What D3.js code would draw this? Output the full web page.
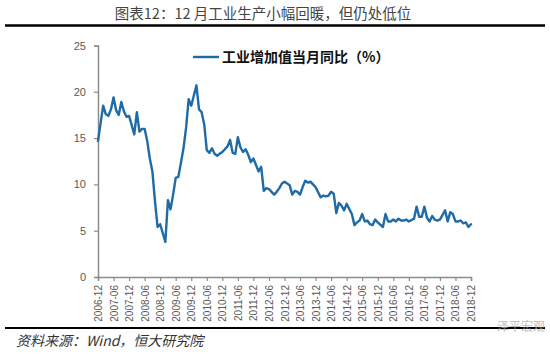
<!DOCTYPE html>
<html>
<head>
<meta charset="utf-8">
<script src="https://cdn.jsdelivr.net/npm/d3@7"></script>
<style>
  html, body { margin: 0; padding: 0; background: #fff; }
  svg { display: block; }
</style>
</head>
<body>
<svg id="chart" width="550" height="354"></svg>
<script>
// Chart data: industrial value added, monthly YoY (%), 2006-12 .. 2018-12.
// January is not published separately (Jan-Feb combined), so it is null.
const ivaValues = [
  14.7,
  null, 18.5, 17.6, 17.4, 18.1, 19.4, 18.0, 17.5, 18.9, 17.9, 17.3, 17.4, // 2007
  null, 15.4, 17.8, 15.7, 16.0, 16.0, 14.7, 12.8, 11.4, 8.2, 5.4, 5.7,    // 2008
  null, 3.8, 8.3, 7.3, 8.9, 10.7, 10.8, 12.3, 13.9, 16.1, 19.2, 18.5,     // 2009
  null, 20.7, 18.1, 17.8, 16.5, 13.7, 13.4, 13.9, 13.3, 13.1, 13.3, 13.5, // 2010
  null, 14.1, 14.8, 13.4, 13.3, 15.1, 14.0, 13.5, 13.8, 13.2, 12.4, 12.8, // 2011
  null, 11.4, 11.9, 9.3, 9.6, 9.5, 9.2, 8.9, 9.2, 9.6, 10.1, 10.3,        // 2012
  null, 9.9, 8.9, 9.3, 9.2, 8.9, 9.7, 10.4, 10.2, 10.3, 10.0, 9.7,        // 2013
  null, 8.6, 8.8, 8.7, 8.8, 9.2, 9.0, 6.9, 8.0, 7.7, 7.2, 7.9,            // 2014
  null, 6.8, 5.6, 5.9, 6.1, 6.8, 6.0, 6.1, 5.7, 5.6, 6.2, 5.9,            // 2015
  null, 5.4, 6.8, 6.0, 6.0, 6.2, 6.0, 6.3, 6.1, 6.1, 6.2, 6.0,            // 2016
  null, 6.3, 7.6, 6.5, 6.5, 7.6, 6.4, 6.0, 6.6, 6.2, 6.1, 6.2,            // 2017
  null, 7.2, 6.0, 7.0, 6.8, 6.0, 6.0, 6.1, 5.8, 5.9, 5.4, 5.7             // 2018
];
const xTickLabels = [
  '2006-12', '2007-06', '2007-12', '2008-06', '2008-12', '2009-06', '2009-12',
  '2010-06', '2010-12', '2011-06', '2011-12', '2012-06', '2012-12', '2013-06',
  '2013-12', '2014-06', '2014-12', '2015-06', '2015-12', '2016-06', '2016-12',
  '2017-06', '2017-12', '2018-06', '2018-12'
];
const yTicks = [0, 5, 10, 15, 20, 25];
const titleText = '图表12：12 月工业生产小幅回暖，但仍处低位';
const legendText = '工业增加值当月同比（%）';
const sourceText = '资料来源：Wind，恒大研究院';
const watermarkText = '泽平宏观';

const lineColor = '#1f6ba5';
const axisColor = '#8c8c8c';
const textColor = '#595959';
const cjkFont = '"Noto Sans CJK SC", sans-serif';
const latinFont = '"Liberation Sans", Arial, sans-serif';

const svg = d3.select('#chart');

// Plot area
const plot = { left: 98, right: 471, top: 45.5, bottom: 277 };

const points = ivaValues
  .map((v, i) => ({ i, v }))
  .filter(d => d.v !== null);

const x = d3.scaleLinear()
  .domain([0, ivaValues.length - 1])
  .range([plot.left, plot.right]);

const y = d3.scaleLinear()
  .domain([0, 25])
  .range([plot.bottom, plot.top]);

// Title
svg.append('text')
  .attr('x', 263)
  .attr('y', 19)
  .attr('text-anchor', 'middle')
  .attr('font-family', cjkFont)
  .attr('font-size', 14.5)
  .attr('fill', '#444')
  .text(titleText);

svg.append('line')
  .attr('x1', 5).attr('x2', 545)
  .attr('y1', 25.5).attr('y2', 25.5)
  .attr('stroke', '#000')
  .attr('stroke-width', 2.5);

// Y axis
const yAxis = d3.axisLeft(y)
  .tickValues(yTicks)
  .tickSize(4)
  .tickPadding(8);

const yG = svg.append('g')
  .attr('transform', `translate(${plot.left},0)`)
  .call(yAxis);

yG.select('.domain').attr('stroke', axisColor).attr('stroke-width', 1.5);
yG.selectAll('.tick line').attr('stroke', axisColor).attr('stroke-width', 1.2);
yG.selectAll('.tick text')
  .attr('font-family', latinFont)
  .attr('font-size', 11)
  .attr('fill', textColor);

// X axis
const tickIdx = xTickLabels.map((d, k) => k * 6);
const xAxis = d3.axisBottom(x)
  .tickValues(tickIdx)
  .tickSize(4)
  .tickFormat((d, k) => xTickLabels[k]);

const xG = svg.append('g')
  .attr('transform', `translate(0,${plot.bottom})`)
  .call(xAxis);

xG.select('.domain').attr('stroke', axisColor).attr('stroke-width', 1.5);
xG.selectAll('.tick line').attr('stroke', axisColor).attr('stroke-width', 1.2);
xG.selectAll('.tick text')
  .attr('font-family', latinFont)
  .attr('font-size', 10)
  .attr('fill', textColor)
  .attr('text-anchor', 'end')
  .attr('dy', '0.35em')
  .attr('transform', 'translate(0,8) rotate(-90)')
  .attr('x', 0)
  .attr('y', 0);

// Series line
const line = d3.line()
  .x(d => x(d.i))
  .y(d => y(d.v))
  .curve(d3.curveLinear);

svg.append('path')
  .datum(points)
  .attr('fill', 'none')
  .attr('stroke', lineColor)
  .attr('stroke-width', 2.4)
  .attr('stroke-linejoin', 'round')
  .attr('stroke-linecap', 'round')
  .attr('d', line);

// Legend
svg.append('line')
  .attr('x1', 193).attr('x2', 219)
  .attr('y1', 57).attr('y2', 57)
  .attr('stroke', lineColor)
  .attr('stroke-width', 2.4);

svg.append('text')
  .attr('x', 222)
  .attr('y', 62)
  .attr('font-family', cjkFont)
  .attr('font-size', 14)
  .attr('font-weight', 'bold')
  .attr('fill', '#111')
  .text(legendText);

// Bottom rule and source
svg.append('line')
  .attr('x1', 5).attr('x2', 545)
  .attr('y1', 328).attr('y2', 328)
  .attr('stroke', '#000')
  .attr('stroke-width', 2);

svg.append('text')
  .attr('x', 16)
  .attr('y', 346)
  .attr('font-family', cjkFont)
  .attr('font-size', 14)
  .attr('font-style', 'italic')
  .attr('fill', '#333')
  .text(sourceText);

// Watermark
svg.append('text')
  .attr('x', 545)
  .attr('y', 331)
  .attr('text-anchor', 'end')
  .attr('font-family', cjkFont)
  .attr('font-size', 12)
  .attr('fill', '#aaa')
  .attr('fill-opacity', 0.8)
  .text(watermarkText);
</script>
</body>
</html>
